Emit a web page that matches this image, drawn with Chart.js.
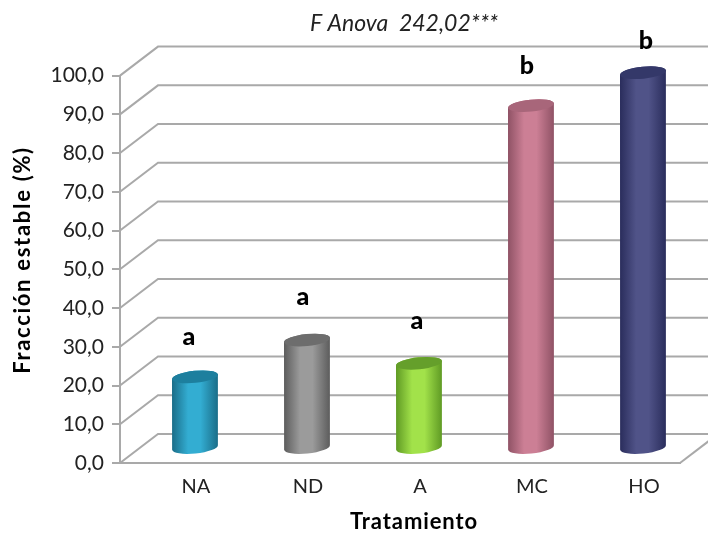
<!DOCTYPE html>
<html>
<head>
<meta charset="utf-8">
<title>Fracción estable</title>
<script src="https://cdn.jsdelivr.net/npm/chart.js@4"></script>
<style>
  body { margin: 0; background: #fff; }
  #wrap { width: 708px; height: 536px; }
  canvas { filter: blur(0.4px); }
</style>
</head>
<body>
<div id="wrap"><canvas id="myChart" width="708" height="536"></canvas></div>
<script>
const categories = ["NA", "ND", "A", "MC", "HO"];
const fraccion = [18.5, 28, 22, 88.5, 97];
const letras = ["a", "a", "a", "b", "b"];
const yTicks = [0, 10, 20, 30, 40, 50, 60, 70, 80, 90, 100];

const tituloAnova = "F Anova  242,02***";
const tituloY = "Fracción estable (%)";
const tituloX = "Tratamiento";

// side, center, top colours of each cylinder
const cylinderColors = [
    ["#1a6d88", "#33add2", "#1d7f9e"],
    ["#5c5c5c", "#9b9b9b", "#6d6d6d"],
    ["#5f9a24", "#a2e24a", "#659f2b"],
    ["#8f5265", "#cc7f95", "#a8667a"],
    ["#2a2d5c", "#505388", "#343869"]
];

const GRID = "#a9a9a9";
const FONT = "Lato, 'Open Sans', sans-serif";
const DEPTH_X = 38, DEPTH_Y = 29;

function drawCylinder(ctx, cx, topY, baseY, colors) {
    const rx = 23, ry = 6, rot = -0.1;
    const ey = rx * Math.sin(rot);

    const grad = ctx.createLinearGradient(cx - rx, 0, cx + rx, 0);
    grad.addColorStop(0, colors[0]);
    grad.addColorStop(0.35, colors[1]);
    grad.addColorStop(0.62, colors[1]);
    grad.addColorStop(1, colors[0]);

    ctx.beginPath();
    ctx.ellipse(cx, baseY, rx, ry, rot, 0, Math.PI);
    ctx.lineTo(cx - rx, topY - ey);
    ctx.ellipse(cx, topY, rx, ry, rot, Math.PI, 0);
    ctx.closePath();
    ctx.fillStyle = grad;
    ctx.fill();

    ctx.beginPath();
    ctx.ellipse(cx, topY, rx, ry, rot, 0, Math.PI * 2);
    ctx.fillStyle = colors[2];
    ctx.fill();
}

const box3d = {
    id: "box3d",
    afterLayout(chart) {
        // el titulo va centrado sobre el area, no sobre el canvas
        chart.titleBlock.left += 128;
    },
    beforeDatasetsDraw(chart) {
        const ctx = chart.ctx;
        const y = chart.scales.y;
        const area = chart.chartArea;
        ctx.save();
        ctx.strokeStyle = GRID;
        ctx.lineWidth = 2;
        y.ticks.forEach(function (t) {
            const py = y.getPixelForValue(t.value);
            ctx.beginPath();
            ctx.moveTo(area.left, py);
            ctx.lineTo(area.left + DEPTH_X, py - DEPTH_Y);
            ctx.lineTo(chart.width + 4, py - DEPTH_Y);
            ctx.stroke();
        });
        // suelo, lado derecho
        ctx.beginPath();
        ctx.moveTo(area.right, area.bottom);
        ctx.lineTo(area.right + DEPTH_X, area.bottom - DEPTH_Y);
        ctx.stroke();
        ctx.restore();
    },
    afterDatasetsDraw(chart) {
        const ctx = chart.ctx;
        const meta = chart.getDatasetMeta(0);
        ctx.save();
        meta.data.forEach(function (bar, i) {
            const cx = bar.x + DEPTH_X / 2;
            const topY = bar.y - DEPTH_Y / 2;
            const baseY = bar.base - DEPTH_Y / 2;
            drawCylinder(ctx, cx, topY, baseY, cylinderColors[i]);
        });
        ctx.restore();
    },
    afterDraw(chart) {
        const ctx = chart.ctx;
        const meta = chart.getDatasetMeta(0);
        ctx.save();
        ctx.fillStyle = "#000";
        ctx.textAlign = "center";
        ctx.textBaseline = "middle";

        ctx.font = "900 25px " + FONT;
        const nudge = [[-6, -40], [-4, -43], [-2, -42], [-4, -40], [3, -32]];
        meta.data.forEach(function (bar, i) {
            const cx = bar.x + DEPTH_X / 2;
            ctx.fillText(letras[i], cx + nudge[i][0], bar.y - DEPTH_Y / 2 + nudge[i][1]);
        });

        ctx.font = "bold 22px " + FONT;
        ctx.letterSpacing = "0.9px";
        ctx.fillText(tituloX, 414, 522);
        ctx.letterSpacing = "1.7px";
        ctx.translate(23, 260);
        ctx.rotate(-Math.PI / 2);
        ctx.fillText(tituloY, 0, 0);
        ctx.restore();
    }
};

var ctx = document.getElementById("myChart").getContext("2d");
new Chart(ctx, {
    type: "bar",
    plugins: [box3d],
    data: {
        labels: categories,
        datasets: [{
            data: fraccion,
            backgroundColor: "rgba(0,0,0,0)",
            barThickness: 46
        }]
    },
    options: {
        responsive: false,
        animation: false,
        layout: { padding: { top: 0, right: 28, bottom: 0, left: 0 } },
        plugins: {
            legend: { display: false },
            tooltip: { enabled: false },
            title: {
                display: true,
                text: tituloAnova,
                color: "#222",
                font: { family: FONT, size: 23, style: "italic", weight: "normal" },
                padding: { top: 10, bottom: 38 }
            }
        },
        scales: {
            x: {
                grid: { display: false, drawTicks: false },
                border: { color: GRID, width: 2 },
                ticks: {
                    color: "#222",
                    font: { family: FONT, size: 20 },
                    padding: 12,
                    labelOffset: 20,
                    maxRotation: 0
                },
                afterFit(scale) { scale.height = 73; }
            },
            y: {
                min: 0,
                max: 100,
                afterBuildTicks(scale) {
                    scale.ticks = yTicks.map(function (v) { return { value: v }; });
                },
                grid: { drawOnChartArea: false, color: GRID, lineWidth: 2, tickLength: 8 },
                border: { color: GRID, width: 2 },
                ticks: {
                    color: "#222",
                    font: { family: FONT, size: 21 },
                    padding: 8,
                    callback: function (v) { return v.toFixed(1).replace(".", ","); }
                },
                afterFit(scale) { scale.width = 120; }
            }
        }
    }
});
</script>
</body>
</html>
